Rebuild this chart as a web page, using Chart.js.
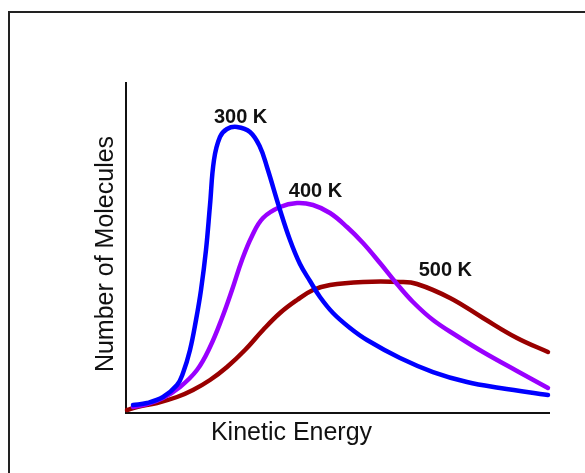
<!DOCTYPE html>
<html>
<head>
<meta charset="utf-8">
<script src="https://cdn.jsdelivr.net/npm/chart.js@4.4.1/dist/chart.umd.min.js"></script>
<style>
  html, body { margin: 0; padding: 0; background: #fff; width: 585px; height: 473px; overflow: hidden; }
  #frame { position: absolute; left: 8px; top: 11px; width: 700px; height: 600px;
           border-top: 2px solid #222; border-left: 2px solid #222; box-sizing: border-box; }
  #wrap { position: absolute; left: 0; top: 0; width: 585px; height: 473px; }
</style>
</head>
<body>
<div id="frame"></div>
<div id="wrap"><canvas id="c" width="585" height="473"></canvas></div>
<script>
// Kinetic energy (arbitrary units, 0-100) and number of molecules (arbitrary units, 0-100)
const energy300 = [1.65, 4.96, 8.75, 12.06, 13.48, 15.13, 16.55, 17.73, 18.91, 19.86, 20.80, 22.22, 23.88, 26.24, 29.31, 31.68, 33.33, 36.41, 38.77, 41.13, 43.50, 45.86, 48.94, 52.96, 56.97, 64.78, 72.58, 80.61, 88.42, 99.76];
const count300  = [2.42, 3.03, 4.85, 8.48, 12.12, 19.09, 28.18, 37.27, 49.39, 63.03, 76.67, 83.64, 86.06, 86.67, 85.15, 80.61, 74.55, 61.52, 52.42, 45.15, 40.00, 35.15, 30.30, 25.76, 22.12, 16.67, 12.42, 9.39, 7.58, 5.45];

const energy400 = [1.65, 4.96, 8.75, 12.77, 16.78, 19.86, 22.70, 25.06, 27.42, 29.79, 32.39, 36.41, 40.43, 44.21, 48.23, 52.25, 56.03, 60.05, 64.07, 67.85, 72.58, 78.25, 84.40, 92.43, 99.76];
const count400  = [1.82, 2.73, 4.55, 7.88, 13.03, 20.00, 28.79, 37.27, 46.36, 53.64, 59.09, 62.42, 63.64, 63.03, 60.61, 56.36, 51.52, 45.45, 39.09, 33.64, 28.18, 23.33, 18.48, 12.73, 7.58];

const energy500 = [0.24, 2.60, 7.33, 12.06, 15.84, 19.86, 23.88, 28.13, 32.39, 36.41, 40.43, 44.21, 48.23, 56.03, 64.78, 68.79, 76.60, 84.40, 92.43, 99.76];
const count500  = [0.91, 1.82, 3.03, 4.85, 6.97, 10.00, 13.94, 19.09, 25.15, 30.30, 34.24, 37.27, 38.79, 39.70, 39.70, 39.09, 34.85, 28.79, 22.73, 18.48];

const seriesNames = ['300 K', '400 K', '500 K'];
const seriesColors = ['#0000ff', '#9900ff', '#990000'];
// label anchor (data units) for each curve label
const labelEnergy = [27.1, 44.8, 75.5];
const labelCount  = [87.9, 65.4, 41.6];

const xTitle = 'Kinetic Energy';
const yTitle = 'Number of Molecules';

function pts(xs, ys) { return xs.map((x, i) => ({ x: x, y: ys[i] })); }

const allData = [pts(energy300, count300), pts(energy400, count400), pts(energy500, count500)];

const textPlugin = {
  id: 'texts',
  afterDraw(chart) {
    const ctx = chart.ctx, ca = chart.chartArea;
    const xs = chart.scales.x, ys = chart.scales.y;
    ctx.save();
    ctx.fillStyle = '#111';
    ctx.textAlign = 'center';
    ctx.textBaseline = 'alphabetic';
    ctx.font = 'bold 20px "Liberation Sans", Arial, sans-serif';
    seriesNames.forEach((n, i) => {
      ctx.fillText(n, xs.getPixelForValue(labelEnergy[i]), ys.getPixelForValue(labelCount[i]));
    });
    ctx.font = '25px "Liberation Sans", Arial, sans-serif';
    ctx.fillText(xTitle, (ca.left + ca.right) / 2 - 46, ca.bottom + 27);
    ctx.translate(ca.left - 13, (ca.top + ca.bottom) / 2 + 6);
    ctx.rotate(-Math.PI / 2);
    ctx.fillText(yTitle, 0, 0);
    ctx.restore();
  }
};

new Chart(document.getElementById('c'), {
  type: 'line',
  data: {
    datasets: allData.map((d, i) => ({
      label: seriesNames[i],
      data: d,
      borderColor: seriesColors[i],
      borderWidth: 4.5,
      pointRadius: 0,
      fill: false,
      tension: 0.4,
      borderCapStyle: 'round',
      borderJoinStyle: 'round',
      clip: false
    }))
  },
  options: {
    responsive: false,
    animation: false,
    devicePixelRatio: 1,
    layout: { padding: { left: 126, right: 36, top: 83, bottom: 60 } },
    plugins: { legend: { display: false }, tooltip: { enabled: false } },
    scales: {
      x: {
        type: 'linear', min: 0, max: 100,
        ticks: { display: false },
        grid: { display: false },
        border: { display: true, color: '#111', width: 2 },
        afterFit(s) { s.height = 0; }
      },
      y: {
        min: 0, max: 100,
        ticks: { display: false },
        grid: { display: false },
        border: { display: true, color: '#111', width: 2 },
        afterFit(s) { s.width = 0; }
      }
    }
  },
  plugins: [textPlugin]
});
</script>
</body>
</html>
